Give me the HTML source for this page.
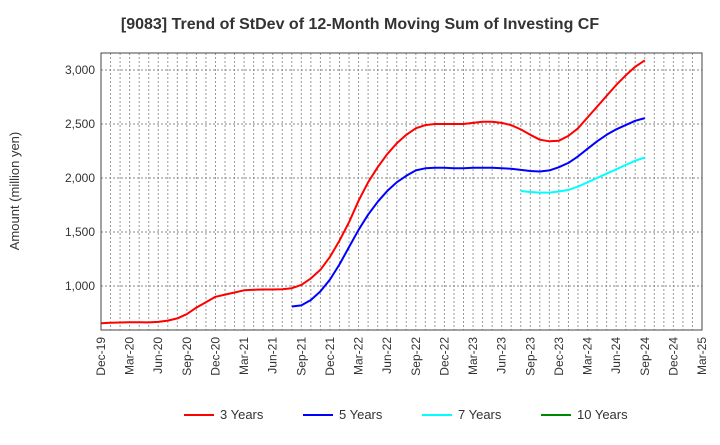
<!DOCTYPE html>
<html><head><meta charset="utf-8"><style>
body{margin:0;background:#fff;font-family:"Liberation Sans",sans-serif;}
</style></head><body>
<svg id="c" width="720" height="440" xmlns="http://www.w3.org/2000/svg">
<text x="360" y="29" text-anchor="middle" font-size="16" font-weight="bold" fill="#333">[9083]  Trend of StDev of 12-Month Moving Sum of Investing CF</text>
<text transform="translate(19,191) rotate(-90)" text-anchor="middle" font-size="13" fill="#333">Amount (million yen)</text>
<g id="grid"></g><g id="lines"></g><g id="axes"></g>
</svg>
<script>
const xLabels=["Dec-19","Mar-20","Jun-20","Sep-20","Dec-20","Mar-21","Jun-21","Sep-21","Dec-21","Mar-22","Jun-22","Sep-22","Dec-22","Mar-23","Jun-23","Sep-23","Dec-23","Mar-24","Jun-24","Sep-24","Dec-24","Mar-25"];
const yTicks=[1000,1500,2000,2500,3000];
const red=[655,660,662,665,664,663,668,680,700,740,800,850,900,920,940,960,965,968,968,970,980,1010,1070,1150,1270,1420,1590,1790,1960,2100,2220,2320,2400,2460,2490,2500,2500,2500,2500,2510,2520,2520,2510,2490,2450,2400,2355,2340,2345,2390,2460,2560,2660,2760,2860,2950,3030,3090];
const blueStart=20;
const blue=[810,820,870,950,1060,1200,1360,1520,1660,1780,1880,1960,2020,2070,2090,2095,2095,2090,2090,2095,2095,2095,2090,2085,2075,2065,2060,2070,2100,2140,2200,2270,2340,2400,2450,2490,2530,2555];
const cyanStart=44;
const cyan=[1880,1870,1865,1865,1875,1890,1920,1960,2000,2040,2080,2120,2160,2190];
const green=[];
const L=101,R=702,T=53,B=330;
const X=m=>L+m*(R-L)/63;
const Y=v=>286-(v-1000)*54/500;
const NS="http://www.w3.org/2000/svg";
function mk(tag,attrs,parent){const e=document.createElementNS(NS,tag);for(const k in attrs)e.setAttribute(k,attrs[k]);parent.appendChild(e);return e;}
const grid=document.getElementById('grid'),lines=document.getElementById('lines'),axes=document.getElementById('axes');
for(let m=1;m<63;m++){const g=mk('line',{x1:X(m),x2:X(m),y1:T,y2:B,stroke:'#999','stroke-dasharray':'2,2','stroke-width':1},grid);

}
yTicks.forEach(v=>{const g=mk('line',{x1:L,x2:R,y1:Y(v),y2:Y(v),stroke:'#888','stroke-dasharray':'2,2','stroke-width':1},grid);


const t=mk('text',{x:L-6,y:Y(v)+4,'text-anchor':'end','font-size':12,fill:'#333'},axes);t.textContent=v.toLocaleString('en-US');

});
const fr=mk('rect',{x:L,y:T,width:R-L,height:B-T,fill:'none',stroke:'#444','stroke-width':1},axes);


xLabels.forEach((s,i)=>{const x=X(i*3);const t=mk('text',{transform:`translate(${x+4},${B+7}) rotate(-90)`,'text-anchor':'end','font-size':12,fill:'#333'},axes);t.textContent=s;

});
function series(arr,start,color,name){if(!arr.length)return;const d=arr.map((v,i)=>(i?'L':'M')+X(start+i).toFixed(1)+','+Y(v).toFixed(1)).join('');
const p=mk('path',{d:d,fill:'none',stroke:color,'stroke-width':2,'stroke-linejoin':'round'},lines);

}
series(red,0,'#f00','line-3-years');
series(blue,blueStart,'#00f','line-5-years');
series(cyan,cyanStart,'#0ff','line-7-years');
series(green,0,'#080','line-10-years');
const leg=[["3 Years","#f00",184],["5 Years","#00f",303],["7 Years","#0ff",422],["10 Years","#080",541]];
leg.forEach(([n,c,x])=>{const g=mk('g',{},axes);


mk('line',{x1:x,x2:x+30,y1:415,y2:415,stroke:c,'stroke-width':2},g);
const t=mk('text',{x:x+36,y:419,'font-size':13,fill:'#333'},g);t.textContent=n;});
</script>
</body></html>
